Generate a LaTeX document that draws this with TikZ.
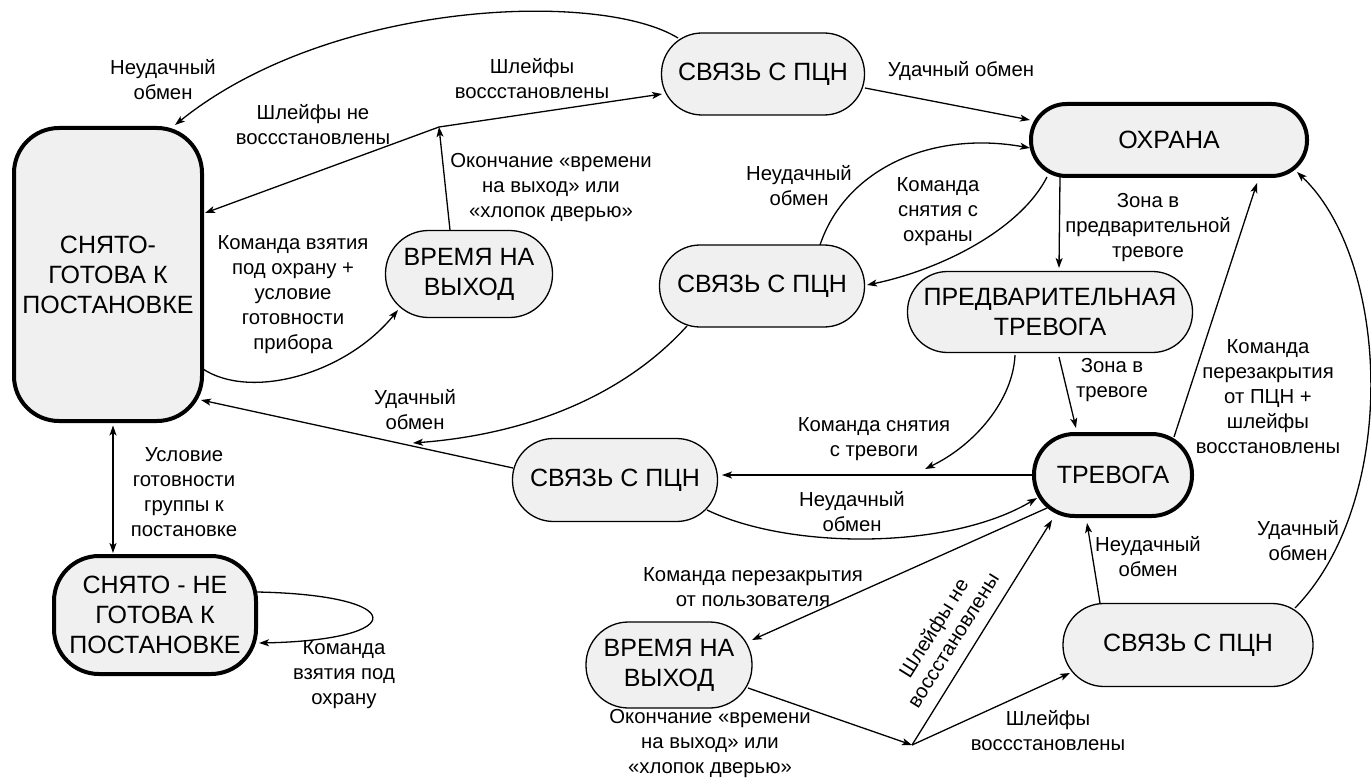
\documentclass[tikz,border=0pt]{standalone}
\usepackage{fontspec}
\setmainfont{Liberation Sans}
\usetikzlibrary{arrows.meta,calc}
\definecolor{nodefill}{RGB}{240,240,240}
\begin{document}
\begin{tikzpicture}[x=1pt,y=-1pt,
  st/.style={draw=black, line width=1.3pt, fill=nodefill, rectangle, align=center, inner sep=0pt, font=\fontsize{25}{30}\selectfont},
  thk/.style={st, line width=4pt},
  lbl/.style={align=center, inner sep=0pt, font=\fontsize{20.3}{25}\selectfont},
  edge/.style={line width=1.3pt, -{Stealth[length=10pt,width=7pt,inset=2.5pt]}},
  plain/.style={line width=1.3pt},
  dbl/.style={line width=1.3pt, {Stealth[length=10pt,width=7pt,inset=2.5pt]}-{Stealth[length=10pt,width=7pt,inset=2.5pt]}}
]
\useasboundingbox (0,0) rectangle (1371,778);

% nodes
\node[thk, minimum width=188pt, minimum height=293pt, rounded corners=45pt] (n1) at (108,274.5) {СНЯТО-\\ГОТОВА К\\ПОСТАНОВКЕ};
\node[thk, minimum width=202pt, minimum height=118pt, rounded corners=45pt] (n2) at (155,615) {СНЯТО - НЕ\\ГОТОВА К\\ПОСТАНОВКЕ};
\node[st, minimum width=167pt, minimum height=87pt, rounded corners=43pt] (n3) at (469,274) {ВРЕМЯ НА\\ВЫХОД};
\node[st, minimum width=203pt, minimum height=82pt, rounded corners=40.5pt] (n4) at (763,74) {СВЯЗЬ С ПЦН};
\node[thk, minimum width=276pt, minimum height=72pt, rounded corners=35.5pt] (n5) at (1169,140) {ОХРАНА};
\node[st, minimum width=205pt, minimum height=82pt, rounded corners=40.5pt] (n6) at (762,286) {СВЯЗЬ С ПЦН};
\node[st, minimum width=285pt, minimum height=81pt, rounded corners=40pt] (n7) at (1050,312) {ПРЕДВАРИТЕЛЬНАЯ\\ТРЕВОГА};
\node[thk, minimum width=158pt, minimum height=82pt, rounded corners=40.5pt] (n8) at (1113,475) {ТРЕВОГА};
\node[st, minimum width=205pt, minimum height=83pt, rounded corners=41pt] (n9) at (615,480) {СВЯЗЬ С ПЦН};
\node[st, minimum width=166pt, minimum height=86pt, rounded corners=42.5pt] (n10) at (669,665) {ВРЕМЯ НА\\ВЫХОД};
\node[st, minimum width=250pt, minimum height=83pt, rounded corners=41pt] (n11) at (1188,645) {СВЯЗЬ С ПЦН};

% junctions / merge points
\coordinate (j1) at (439,127);
\coordinate (j2) at (912,745);
\coordinate (m1) at (413,443);
\coordinate (m2) at (925,469);

% edges
\draw[edge] ($(n4)+(-85,-36)$) .. controls (600,-10) and (330,0) .. ($(n1)+(67,-149.5)$);
\draw[edge] ($(n3)+(-19,-44)$) -- (j1);
\draw[edge] (j1) -- ($(n4)+(-101,20)$);
\draw[edge] (j1) -- ($(n1)+(97,-61.5)$);
\draw[edge] ($(n1)+(95,94.5)$) .. controls (250,400) and (345,375) .. ($(n3)+(-71,36)$);
\draw[edge] ($(n5)+(-122,37)$) .. controls (1020,230) and (940,270) .. ($(n6)+(105,-1)$);
\draw[edge] ($(n6)+(58,-41)$) .. controls (845,170) and (930,130) .. ($(n5)+(-139,8)$);
\draw[edge] ($(n4)+(102,14)$) -- ($(n5)+(-139,-20)$);
\draw[edge] ($(n5)+(-109,37)$) -- ($(n7)+(9,-44)$);
\draw[edge] ($(n6)+(-75,40)$) .. controls (620,400) and (520,435) .. (m1);
\draw[edge] ($(n9)+(-102,-12)$) -- ($(n1)+(93,125.5)$);
\draw[edge] ($(n8)+(-80,0)$) -- ($(n9)+(107,-5)$);
\draw[edge] ($(n7)+(-35,43)$) .. controls (1013,400) and (975,445) .. (m2);
\draw[edge] ($(n7)+(9,45)$) -- ($(n8)+(-37,-47)$);
\draw[edge] ($(n8)+(61,-38)$) -- ($(n5)+(88,43)$);
\draw[edge] ($(n11)+(107,-37)$) .. controls (1400,500) and (1390,260) .. ($(n5)+(128,32)$);
\draw[edge] ($(n11)+(-88,-42)$) -- ($(n8)+(-26,48)$);
\draw[edge] ($(n9)+(92,30)$) .. controls (790,550) and (950,550) .. ($(n8)+(-76,23)$);
\draw[edge] ($(n8)+(-66,33)$) -- ($(n10)+(83,-25)$);
\draw[edge] ($(n10)+(79,23)$) -- (j2);
\draw[edge] (j2) -- ($(n8)+(-61,45)$);
\draw[edge] (j2) -- ($(n11)+(-118,28)$);
\draw[dbl] ($(n1)+(5,151)$) -- ($(n2)+(-42,-62)$);
\draw[edge] ($(n2)+(102,-23)$) .. controls (410,595) and (410,640) .. ($(n2)+(104,28)$);

% labels
\node[lbl] (l1) at (163,80) {Неудачный\\обмен};
\node[lbl] (l2) at (532,79) {Шлейфы\\воссстановлены};
\node[lbl] (l3) at (313,125) {Шлейфы не\\воссстановлены};
\node[lbl] (l4) at (551,188) {Окончание «времени\\на выход» или\\«хлопок дверью»};
\node[lbl] (l5) at (293,295) {Команда взятия\\под охрану +\\условие\\готовности\\прибора};
\node[lbl] (l6) at (961,71) {Удачный обмен};
\node[lbl] (l7) at (799,186) {Неудачный\\обмен};
\node[lbl] (l8) at (938,212) {Команда\\снятия с\\охраны};
\node[lbl] (l9) at (1148,228) {Зона в\\предварительной\\тревоге};
\node[lbl] (l10) at (415,410) {Удачный\\обмен};
\node[lbl] (l11) at (874,439) {Команда снятия\\с тревоги};
\node[lbl] (l12) at (1112,380) {Зона в\\тревоге};
\node[lbl] (l13) at (1268,397) {Команда\\перезакрытия\\от ПЦН +\\шлейфы\\восстановлены};
\node[lbl] (l14) at (852,512) {Неудачный\\обмен};
\node[lbl] (l15) at (1298,541) {Удачный\\обмен};
\node[lbl] (l16) at (1148,557) {Неудачный\\обмен};
\node[lbl] (l17) at (753,587) {Команда перезакрытия\\от пользователя};
\node[lbl] (l18) at (710,744) {Окончание «времени\\на выход» или\\«хлопок дверью»};
\node[lbl, rotate=58, font=\fontsize{20.3}{23}\selectfont] (l19) at (943,634) {Шлейфы не\\воссстановлены};
\node[lbl] (l20) at (1048,731) {Шлейфы\\воссстановлены};
\node[lbl] (l21) at (184,492) {Условие\\готовности\\группы к\\постановке};
\node[lbl] (l22) at (344,675) {Команда\\взятия под\\охрану};
\end{tikzpicture}
\end{document}
